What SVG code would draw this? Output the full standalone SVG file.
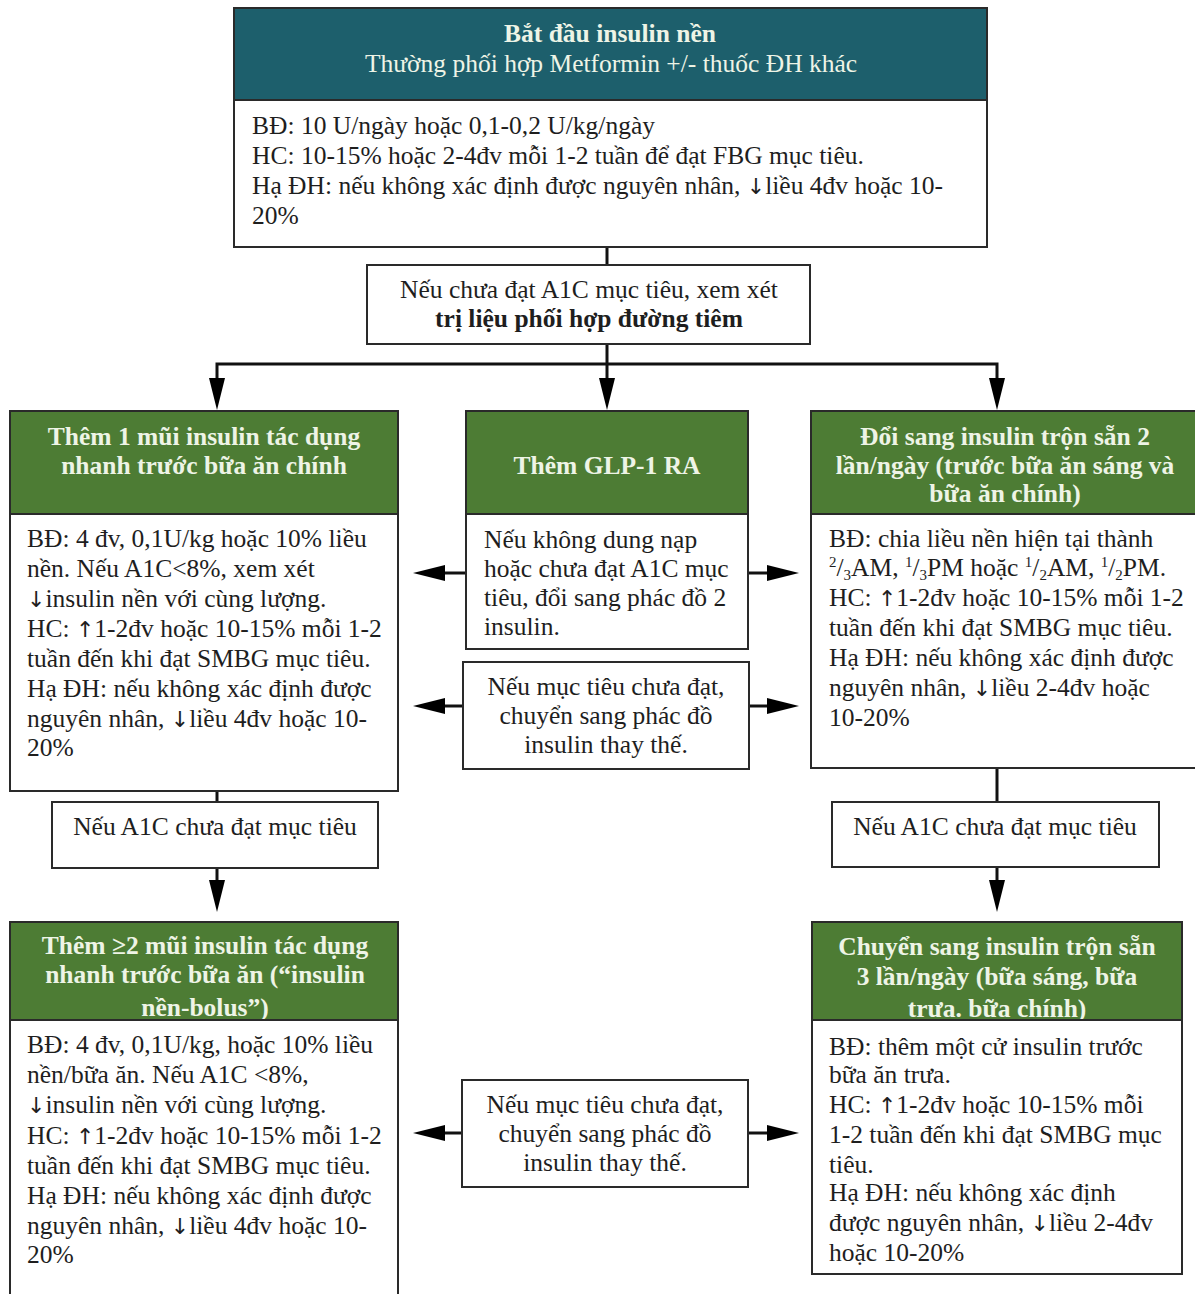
<svg xmlns="http://www.w3.org/2000/svg" width="1195" height="1294" viewBox="0 0 1195 1294">
  <style>
    text { font-family: "Liberation Serif", "Times New Roman", "DejaVu Serif", serif; font-size: 25.5px; fill: #1e1e1e; }
    .c { text-anchor: middle; }
    .b { font-weight: bold; }
    .h { text-anchor: middle; font-weight: bold; fill: #eef4e6; }
    .hn { text-anchor: middle; fill: #eef4e6; }
    .box { fill: #ffffff; stroke: #2a2a2a; stroke-width: 2; }
    .teal { fill: #1d5f6c; stroke: #2a2a2a; stroke-width: 2; }
    .green { fill: #4d7c34; stroke: #2a2a2a; stroke-width: 2; }
    .conn { fill: none; stroke: #111111; stroke-width: 3; }
    .sm { font-size: 15px; }
    .ar { font-family: "DejaVu Sans", sans-serif; font-size: 22px; }
  </style>
  <defs>
    <marker id="arrow" viewBox="0 0 32 16" refX="2" refY="8" markerWidth="32" markerHeight="16" markerUnits="userSpaceOnUse" orient="auto">
      <path d="M0,0 L32,8 L0,16 Z" fill="#000000"/>
    </marker>
  </defs>

  <rect width="1195" height="1294" fill="#ffffff"/>

  <!-- connectors -->
  <g id="connectors">
    <path class="conn" d="M607,247 V265"/>
    <path class="conn" d="M607,344 V380" marker-end="url(#arrow)"/>
    <path class="conn" d="M607,364 H217 V380" marker-end="url(#arrow)"/>
    <path class="conn" d="M607,364 H997 V380" marker-end="url(#arrow)"/>
    <path class="conn" d="M466,573 H443" marker-end="url(#arrow)"/>
    <path class="conn" d="M748,573 H769" marker-end="url(#arrow)"/>
    <path class="conn" d="M463,706 H443" marker-end="url(#arrow)"/>
    <path class="conn" d="M749,706 H769" marker-end="url(#arrow)"/>
    <path class="conn" d="M217,791 V802"/>
    <path class="conn" d="M217,868 V882" marker-end="url(#arrow)"/>
    <path class="conn" d="M997,768 V802"/>
    <path class="conn" d="M997,867 V882" marker-end="url(#arrow)"/>
    <path class="conn" d="M462,1133 H443" marker-end="url(#arrow)"/>
    <path class="conn" d="M748,1133 H769" marker-end="url(#arrow)"/>
  </g>

  <!-- start: basal insulin -->
  <g id="start">
    <rect class="box" x="234" y="8" width="753" height="239"/>
    <rect class="teal" x="234" y="8" width="753" height="92"/>
    <text class="h" x="610" y="42">Bắt đầu insulin nền</text>
    <text class="hn" x="611" y="72">Thường phối hợp Metformin +/- thuốc ĐH khác</text>
    <text x="252" y="134">BĐ: 10 U/ngày hoặc 0,1-0,2 U/kg/ngày</text>
    <text x="252" y="164">HC: 10-15% hoặc 2-4đv mỗi 1-2 tuần để đạt FBG mục tiêu.</text>
    <text x="252" y="194">Hạ ĐH: nếu không xác định được nguyên nhân, <tspan class="ar">↓</tspan>liều 4đv hoặc 10-</text>
    <text x="252" y="224">20%</text>
  </g>

  <!-- decision: combined injectable therapy -->
  <g id="consider">
    <rect class="box" x="367" y="265" width="443" height="79"/>
    <text class="c" x="589" y="298">Nếu chưa đạt A1C mục tiêu, xem xét</text>
    <text class="c b" x="589" y="327">trị liệu phối hợp đường tiêm</text>
  </g>

  <!-- left: one prandial injection -->
  <g id="add-prandial">
    <rect class="box" x="10" y="411" width="388" height="380"/>
    <rect class="green" x="10" y="411" width="388" height="103"/>
    <text class="h" x="204" y="445">Thêm 1 mũi insulin tác dụng</text>
    <text class="h" x="204" y="474">nhanh trước bữa ăn chính</text>
    <text x="27" y="547">BĐ: 4 đv, 0,1U/kg hoặc 10% liều</text>
    <text x="27" y="577">nền. Nếu A1C&lt;8%, xem xét</text>
    <text x="27" y="607"><tspan class="ar">↓</tspan>insulin nền với cùng lượng.</text>
    <text x="27" y="637">HC: <tspan class="ar">↑</tspan>1-2đv hoặc 10-15% mỗi 1-2</text>
    <text x="27" y="667">tuần đến khi đạt SMBG mục tiêu.</text>
    <text x="27" y="697">Hạ ĐH: nếu không xác định được</text>
    <text x="27" y="727">nguyên nhân, <tspan class="ar">↓</tspan>liều 4đv hoặc 10-</text>
    <text x="27" y="756">20%</text>
  </g>

  <!-- middle: GLP-1 RA -->
  <g id="add-glp1">
    <rect class="box" x="466" y="411" width="282" height="238"/>
    <rect class="green" x="466" y="411" width="282" height="103"/>
    <text class="h" x="607" y="474">Thêm GLP-1 RA</text>
    <text x="484" y="548">Nếu không dung nạp</text>
    <text x="484" y="577">hoặc chưa đạt A1C mục</text>
    <text x="484" y="606">tiêu, đổi sang phác đồ 2</text>
    <text x="484" y="635">insulin.</text>
  </g>

  <g id="switch-mid">
    <rect class="box" x="463" y="662" width="286" height="107"/>
    <text class="c" x="606" y="695">Nếu mục tiêu chưa đạt,</text>
    <text class="c" x="606" y="724">chuyển sang phác đồ</text>
    <text class="c" x="606" y="753">insulin thay thế.</text>
  </g>

  <!-- right: premixed twice daily -->
  <g id="premix-2">
    <rect class="box" x="811" y="411" width="392" height="357"/>
    <rect class="green" x="811" y="411" width="392" height="103"/>
    <text class="h" x="1005" y="445">Đổi sang insulin trộn sẵn 2</text>
    <text class="h" x="1005" y="474">lần/ngày (trước bữa ăn sáng và</text>
    <text class="h" x="1005" y="502">bữa ăn chính)</text>
    <text x="829" y="547">BĐ: chia liều nền hiện tại thành</text>
    <text x="829" y="576"><tspan class="sm" dy="-9">2</tspan><tspan dy="9">/</tspan><tspan class="sm" dy="4">3</tspan><tspan dy="-4">AM, </tspan><tspan class="sm" dy="-9">1</tspan><tspan dy="9">/</tspan><tspan class="sm" dy="4">3</tspan><tspan dy="-4">PM hoặc </tspan><tspan class="sm" dy="-9">1</tspan><tspan dy="9">/</tspan><tspan class="sm" dy="4">2</tspan><tspan dy="-4">AM, </tspan><tspan class="sm" dy="-9">1</tspan><tspan dy="9">/</tspan><tspan class="sm" dy="4">2</tspan><tspan dy="-4">PM.</tspan></text>
    <text x="829" y="606">HC: <tspan class="ar">↑</tspan>1-2đv hoặc 10-15% mỗi 1-2</text>
    <text x="829" y="636">tuần đến khi đạt SMBG mục tiêu.</text>
    <text x="829" y="666">Hạ ĐH: nếu không xác định được</text>
    <text x="829" y="696">nguyên nhân, <tspan class="ar">↓</tspan>liều 2-4đv hoặc</text>
    <text x="829" y="726">10-20%</text>
  </g>

  <!-- A1C checks -->
  <g id="check-left">
    <rect class="box" x="52" y="802" width="326" height="66"/>
    <text class="c" x="215" y="835">Nếu A1C chưa đạt mục tiêu</text>
  </g>
  <g id="check-right">
    <rect class="box" x="832" y="802" width="327" height="65"/>
    <text class="c" x="995" y="835">Nếu A1C chưa đạt mục tiêu</text>
  </g>

  <!-- bottom left: basal-bolus (last header line runs under the body box) -->
  <g id="basal-bolus">
    <rect class="green" x="10" y="922" width="388" height="98"/>
    <text class="h" x="205" y="954">Thêm ≥2 mũi insulin tác dụng</text>
    <text class="h" x="205" y="983">nhanh trước bữa ăn (“insulin</text>
    <text class="h" x="205" y="1016">nền-bolus”)</text>
    <rect class="box" x="10" y="1020" width="388" height="290"/>
    <text x="27" y="1053">BĐ: 4 đv, 0,1U/kg, hoặc 10% liều</text>
    <text x="27" y="1083">nền/bữa ăn. Nếu A1C &lt;8%,</text>
    <text x="27" y="1113"><tspan class="ar">↓</tspan>insulin nền với cùng lượng.</text>
    <text x="27" y="1144">HC: <tspan class="ar">↑</tspan>1-2đv hoặc 10-15% mỗi 1-2</text>
    <text x="27" y="1174">tuần đến khi đạt SMBG mục tiêu.</text>
    <text x="27" y="1204">Hạ ĐH: nếu không xác định được</text>
    <text x="27" y="1234">nguyên nhân, <tspan class="ar">↓</tspan>liều 4đv hoặc 10-</text>
    <text x="27" y="1263">20%</text>
  </g>

  <!-- bottom middle -->
  <g id="switch-bottom">
    <rect class="box" x="462" y="1080" width="286" height="107"/>
    <text class="c" x="605" y="1113">Nếu mục tiêu chưa đạt,</text>
    <text class="c" x="605" y="1142">chuyển sang phác đồ</text>
    <text class="c" x="605" y="1171">insulin thay thế.</text>
  </g>

  <!-- bottom right: premixed three times daily -->
  <g id="premix-3">
    <rect class="green" x="812" y="922" width="370" height="98"/>
    <text class="h" x="997" y="955">Chuyển sang insulin trộn sẵn</text>
    <text class="h" x="997" y="985">3 lần/ngày (bữa sáng, bữa</text>
    <text class="h" x="997" y="1017">trưa. bữa chính)</text>
    <rect class="box" x="812" y="1020" width="370" height="254"/>
    <text x="829" y="1055">BĐ: thêm một cử insulin trước</text>
    <text x="829" y="1083">bữa ăn trưa.</text>
    <text x="829" y="1113">HC: <tspan class="ar">↑</tspan>1-2đv hoặc 10-15% mỗi</text>
    <text x="829" y="1143">1-2 tuần đến khi đạt SMBG mục</text>
    <text x="829" y="1173">tiêu.</text>
    <text x="829" y="1201">Hạ ĐH: nếu không xác định</text>
    <text x="829" y="1231">được nguyên nhân, <tspan class="ar">↓</tspan>liều 2-4đv</text>
    <text x="829" y="1261">hoặc 10-20%</text>
  </g>
</svg>
